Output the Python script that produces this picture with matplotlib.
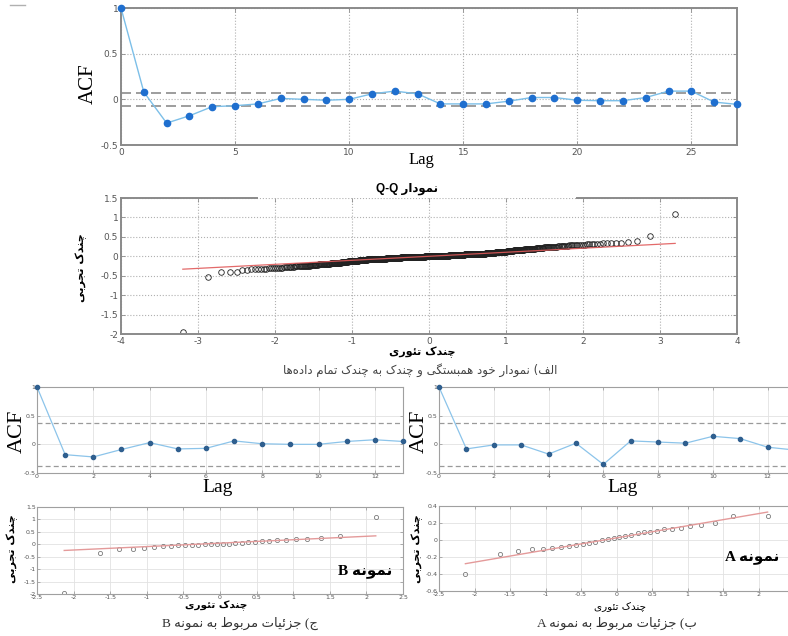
import numpy as np
import matplotlib
matplotlib.use('Agg')
import matplotlib.pyplot as plt
from matplotlib.lines import Line2D
from matplotlib.ticker import FormatStrFormatter
from statistics import NormalDist

plt.rcParams['axes.unicode_minus'] = False
W, H = 788, 636

# ---------------- DATA ----------------
lags_all = list(range(28))
acf_all = [1.0, 0.08, -0.26, -0.18, -0.08, -0.07, -0.05, 0.01, 0.0, -0.01, 0.0, 0.06, 0.09, 0.06,
           -0.05, -0.05, -0.05, -0.02, 0.02, 0.02, -0.01, -0.015, -0.015, 0.02, 0.09, 0.09, -0.03, -0.055]
acf_all_bound = 0.072

lags_small = list(range(14))
acf_b = [1.0, -0.18, -0.22, -0.09, 0.03, -0.08, -0.07, 0.06, 0.01, 0.0, 0.0, 0.05, 0.08, 0.05]
acf_a = [1.0, -0.08, -0.01, -0.01, -0.17, 0.02, -0.35, 0.06, 0.04, 0.02, 0.14, 0.10, -0.05, -0.10]
acf_small_bound = 0.37

# whole data set: tails listed one by one, dense centre as value / count
qq_low_tail = [-1.94, -0.53, -0.41, -0.41, -0.40, -0.36, -0.35, -0.34, -0.34, -0.33, -0.33,
               -0.32, -0.32, -0.31, -0.31, -0.31, -0.30]
qq_high_tail = [0.30, 0.30, 0.31, 0.31, 0.31, 0.32, 0.32, 0.32, 0.33, 0.33, 0.33, 0.34, 0.35,
                0.36, 0.39, 0.51, 1.08]
qq_mid_values = [-0.29, -0.28, -0.27, -0.26, -0.25, -0.24, -0.23, -0.22, -0.21, -0.20, -0.19, -0.18,
                 -0.17, -0.16, -0.15, -0.14, -0.13, -0.12, -0.11, -0.10, -0.09, -0.08, -0.07, -0.06,
                 -0.05, -0.04, -0.03, -0.02, -0.01, 0.0, 0.01, 0.02, 0.03, 0.04, 0.05, 0.06, 0.07,
                 0.08, 0.09, 0.10, 0.11, 0.12, 0.13, 0.14, 0.15, 0.16, 0.17, 0.18, 0.19, 0.20, 0.21,
                 0.22, 0.23, 0.24, 0.25, 0.26, 0.27, 0.28, 0.29]
qq_mid_counts = [4, 4, 4, 5, 5, 5, 5, 5, 6, 6, 6, 6, 6, 7, 7, 7, 8, 8, 9, 10, 12, 15, 19, 22, 24, 26,
                 28, 29, 30, 30, 30, 29, 28, 26, 24, 22, 19, 15, 12, 10, 9, 8, 8, 7, 7, 7, 6, 6, 6,
                 6, 6, 5, 5, 5, 5, 5, 4, 4, 4]

sample_b = [-1.97, -0.35, -0.20, -0.19, -0.15, -0.11, -0.08, -0.05, -0.04, -0.03, -0.02, -0.01,
            -0.005, 0.0, 0.01, 0.02, 0.03, 0.05, 0.07, 0.08, 0.10, 0.12, 0.145, 0.17, 0.19, 0.21,
            0.22, 0.27, 0.35, 1.08]
sample_a = [-0.40, -0.16, -0.13, -0.11, -0.10, -0.09, -0.085, -0.075, -0.06, -0.05, -0.035, -0.02,
            -0.005, 0.01, 0.02, 0.03, 0.05, 0.06, 0.08, 0.09, 0.10, 0.11, 0.125, 0.13, 0.14, 0.17,
            0.18, 0.20, 0.285, 0.285]

# ---------------- PERSIAN TEXT (manual shaping + visual order) ----------------
DUAL = {'ب': 0xFE8F, 'ت': 0xFE95, 'ث': 0xFE99, 'ج': 0xFE9D, 'ح': 0xFEA1, 'خ': 0xFEA5, 'س': 0xFEB1,
        'ش': 0xFEB5, 'ص': 0xFEB9, 'ض': 0xFEBD, 'ط': 0xFEC1, 'ظ': 0xFEC5, 'ع': 0xFEC9, 'غ': 0xFECD,
        'ف': 0xFED1, 'ق': 0xFED5, 'ل': 0xFEDD, 'م': 0xFEE1, 'ن': 0xFEE5, 'ه': 0xFEE9, 'ئ': 0xFE89,
        'پ': 0xFB56, 'چ': 0xFB7A, 'ک': 0xFB8E, 'گ': 0xFB92, 'ی': 0xFBFC}
RIGHT = {'ا': 0xFE8D, 'د': 0xFEA9, 'ذ': 0xFEAB, 'ر': 0xFEAD, 'ز': 0xFEAF, 'ژ': 0xFB8A, 'و': 0xFEED}
MIRROR = str.maketrans('()', ')(')


def fa(s):
    out = []
    for i, c in enumerate(s):
        if c in DUAL or c in RIGHT:
            prev = i > 0 and s[i - 1] in DUAL
            nxt = c in DUAL and i + 1 < len(s) and (s[i + 1] in DUAL or s[i + 1] in RIGHT)
            form = 3 if (prev and nxt) else 1 if prev else 2 if nxt else 0
            out.append(chr((DUAL.get(c) or RIGHT.get(c)) + form))
        elif c != '\u200c':
            out.append(c)
    runs = []
    for ch in out:
        ltr = ch.isascii() and (ch.isalnum() or (ch == '-' and bool(runs) and runs[-1][0]))
        if runs and runs[-1][0] == ltr:
            runs[-1][1] += ch
        else:
            runs.append([ltr, ch])
    return ''.join(t if l else t[::-1].translate(MIRROR) for l, t in reversed(runs))


fig = plt.figure(figsize=(W / 100, H / 100), dpi=100)


def box(l, t, r, b):
    return [l / W, 1 - b / H, (r - l) / W, (b - t) / H]


def ftext(x, y, s, **kw):
    fig.text(x / W, 1 - y / H, s, ha=kw.pop('ha', 'center'), va=kw.pop('va', 'center'), **kw)


def style(ax, big):
    sc = '#8a8a8a' if big else '#a0a0a0'
    for sp in ax.spines.values():
        sp.set_color(sc)
        sp.set_linewidth(1.4 if big else 0.8)
    ax.tick_params(direction='in', top=True, right=True, length=3 if big else 2, width=0.6,
                   colors=sc, labelcolor='#555555', labelsize=6.5 if big else 4.5, pad=2 if big else 1)
    if big:
        ax.grid(True, ls=':', color='#b0b0b0', lw=0.8)
    else:
        ax.grid(True, ls='-', color='#e2e2e2', lw=0.6)
    ax.set_axisbelow(True)
    ax.xaxis.set_major_formatter(FormatStrFormatter('%g'))
    ax.yaxis.set_major_formatter(FormatStrFormatter('%g'))


def qq(sample):
    y = np.sort(np.asarray(sample, float))
    n = len(y)
    nd = NormalDist()
    x = np.array([nd.inv_cdf((i - 0.5) / n) for i in range(1, n + 1)])
    q1, q3 = np.percentile(y, [25, 75])
    z1, z3 = nd.inv_cdf(0.25), nd.inv_cdf(0.75)
    k = (q3 - q1) / (z3 - z1)
    lx = np.array([x[0], x[-1]])
    return x, y, lx, q1 + k * (lx - z1)


# ---------------- top ACF ----------------
ax = fig.add_axes(box(121, 8, 737, 145))
style(ax, True)
ax.axhline(acf_all_bound, color='#8c8c8c', ls=(0, (6, 3)), lw=1.2)
ax.axhline(-acf_all_bound, color='#8c8c8c', ls=(0, (6, 3)), lw=1.2)
ax.plot(lags_all, acf_all, color='#7cbfe8', lw=1, marker='o', ms=4.5, mfc='#1f6fcf', mec='#1f6fcf', clip_on=False, zorder=3)
ax.set_xlim(0, 27)
ax.set_ylim(-0.5, 1)
ax.set_xticks([0, 5, 10, 15, 20, 25])
ax.set_yticks([-0.5, 0, 0.5, 1])
ftext(88, 84, 'ACF', rotation=90, family='Liberation Serif', fontsize=15)
ftext(421, 160, 'Lag', family='Liberation Serif', fontsize=12)

# ---------------- top Q-Q ----------------
qq_sample = qq_low_tail + list(np.repeat(qq_mid_values, qq_mid_counts)) + qq_high_tail
x, y, lx, ly = qq(qq_sample)
ax = fig.add_axes(box(121, 198, 737, 334))
style(ax, True)
ax.spines['top'].set_visible(False)
for seg in ([0, 0.221], [0.74, 1]):
    ax.plot(seg, [1, 1], transform=ax.transAxes, color='#8a8a8a', lw=1.4, clip_on=False)
ax.plot(x, y, 'o', ms=4, mfc='none', mec='#222222', mew=0.6)
ax.plot(lx, ly, color='#e05a5a', lw=0.9, alpha=0.9)
ax.set_xlim(-4, 4)
ax.set_ylim(-2, 1.5)
ax.set_xticks(range(-4, 5))
ax.set_yticks([-2, -1.5, -1, -0.5, 0, 0.5, 1, 1.5])
ftext(407, 189, fa('نمودار Q-Q'), family=['Liberation Sans', 'DejaVu Sans'], fontsize=8.5, weight='bold')
ftext(81, 268, fa('چندک تجربی'), rotation=90, family='DejaVu Sans', fontsize=8, weight='bold')
ftext(422, 352, fa('چندک تئوری'), family='DejaVu Sans', fontsize=8, weight='bold')
ftext(420, 370, fa('الف) نمودار خود همبستگی و چندک به چندک تمام داده\u200cها'), family='DejaVu Sans',
      fontsize=8.5, color='#444444')

# ---------------- small ACF plots ----------------
for acf, (l, r), lab_x, lag_x in ((acf_b, (37, 403), 17, 218), (acf_a, (439, 795), 419, 623)):
    ax = fig.add_axes(box(l, 387, r, 473))
    style(ax, False)
    ax.axhline(acf_small_bound, color='#9a9a9a', ls=(0, (4, 2.5)), lw=0.9)
    ax.axhline(-acf_small_bound, color='#9a9a9a', ls=(0, (4, 2.5)), lw=0.9)
    ax.plot(lags_small, acf, color='#8cc4ea', lw=0.9, marker='o', ms=3, mfc='#2f5f8f', mec='#2f5f8f', clip_on=False, zorder=3)
    ax.set_xlim(0, 13)
    ax.set_ylim(-0.5, 1)
    ax.set_xticks(range(0, 14, 2))
    ax.set_yticks([-0.5, 0, 0.5, 1])
    ftext(lab_x, 431, 'ACF', rotation=90, family='Liberation Serif', fontsize=16)
    ftext(lag_x, 488, 'Lag', family='Liberation Serif', fontsize=14)

# ---------------- small Q-Q plots ----------------
panels = (
    (sample_b, (37, 507, 403, 594), (-2, 1.5), [-2, -1.5, -1, -0.5, 0, 0.5, 1, 1.5], 'B', 392, 571, 12, 216, 240),
    (sample_a, (439, 506, 794, 591), (-0.6, 0.4), [-0.6, -0.4, -0.2, 0, 0.2, 0.4], 'A', 779, 557, 417, 620, 617),
)
for smp, bx, ylim, yt, name, nx, ny, ylx, xlx, capx in panels:
    x, y, lx, ly = qq(smp)
    ax = fig.add_axes(box(*bx))
    style(ax, False)
    ax.plot(x, y, 'o', ms=3, mfc='none', mec='#7a7a7a', mew=0.6)
    ax.plot(lx, ly, color='#e49a9a', lw=1)
    ax.set_xlim(-2.5, 2.5)
    ax.set_ylim(*ylim)
    ax.set_xticks([-2.5, -2, -1.5, -1, -0.5, 0, 0.5, 1, 1.5, 2, 2.5])
    ax.set_yticks(yt)
    ftext(nx, ny, fa('نمونه ' + name), ha='right', family=['Liberation Serif', 'DejaVu Sans'],
          fontsize=11, weight='bold')
    ftext(ylx, 549, fa('چندک تجربی'), rotation=90, family='DejaVu Sans', fontsize=8, weight='bold')
    ftext(xlx, 606, fa('چندک تئوری'), family='DejaVu Sans', fontsize=7.5,
          weight='bold' if name == 'B' else 'normal')
    ftext(capx, 623, fa(('ج' if name == 'B' else 'ب') + ') جزئیات مربوط به نمونه ' + name),
          family=['Liberation Serif', 'DejaVu Sans'], fontsize=9.5, color='#333333')

fig.add_artist(Line2D([10 / W, 25 / W], [1 - 5 / H, 1 - 5 / H], color='#b0b0b0', lw=1))

fig.savefig('out.png', dpi=100)
